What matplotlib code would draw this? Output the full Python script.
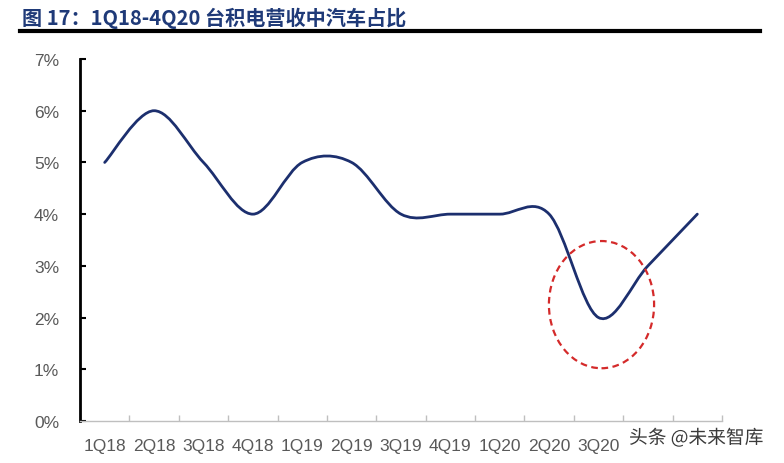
import matplotlib
matplotlib.use("Agg")
import matplotlib.pyplot as plt
from matplotlib.path import Path
from matplotlib.patches import PathPatch, Ellipse
from matplotlib.lines import Line2D
import matplotlib.patheffects as pe
import numpy as np

plt.rcParams['font.family'] = ['Liberation Sans', 'Noto Sans CJK SC', 'DejaVu Sans']

quarters = ["1Q18", "2Q18", "3Q18", "4Q18", "1Q19", "2Q19", "3Q19", "4Q19",
            "1Q20", "2Q20", "3Q20", "4Q20", "1Q21"]
auto_share = [5, 6, 5, 4, 5, 5, 4, 4, 4, 4, 2, 3, 4]   # %
y_ticks = [0, 1, 2, 3, 4, 5, 6, 7]

title = "图 17：1Q18-4Q20 台积电营收中汽车占比"
watermark = "头条 @未来智库"

fig = plt.figure(figsize=(7.84, 4.64), dpi=100)
ax = fig.add_axes([80/784, 1-422/464, (722-80)/784, (422-60)/464])

# Smooth (Excel-style) line through the points
xs = np.arange(len(auto_share), dtype=float)
ys = np.array(auto_share, dtype=float)
n = len(xs)
verts = [(xs[0], ys[0])]
codes = [Path.MOVETO]
for i in range(n-1):
    p_prev = (xs[max(i-1, 0)], ys[max(i-1, 0)])
    p0 = (xs[i], ys[i])
    p1 = (xs[i+1], ys[i+1])
    p_next = (xs[min(i+2, n-1)], ys[min(i+2, n-1)])
    c1 = (p0[0] + (p1[0]-p_prev[0])/6, p0[1] + (p1[1]-p_prev[1])/6)
    c2 = (p1[0] - (p_next[0]-p0[0])/6, p1[1] - (p_next[1]-p0[1])/6)
    verts += [c1, c2, p1]
    codes += [Path.CURVE4]*3
ax.add_patch(PathPatch(Path(verts, codes), facecolor='none',
                       edgecolor='#1C2F6E', lw=2.0, capstyle='round', zorder=3))

# Highlight ellipse
ax.add_patch(Ellipse((10.06, 2.25), 2.13, 2.46, facecolor='none',
                     edgecolor='#D42A2A', lw=1.6, ls=(0, (3, 2)), zorder=4))

ax.set_xlim(-0.5, len(quarters)-0.5)
ax.set_ylim(0, 7)
ax.set_xticks(xs)
ax.set_xticklabels(quarters, fontsize=12.5, color='#595959')
# the last two category labels are hidden under the watermark in the reference
for lbl in ax.get_xticklabels()[-2:]:
    lbl.set_visible(False)
ax.set_xticks(np.arange(-0.5, len(quarters), 1.0), minor=True)
ax.tick_params(axis='x', which='major', length=0, pad=12)
ax.tick_params(axis='x', which='minor', direction='in', length=4, color='#BFBFBF', width=1)
ax.set_yticks(y_ticks)
ax.set_yticklabels([f"{v}%" for v in y_ticks], fontsize=12.5, color='#595959')
ax.tick_params(axis='y', direction='in', length=4, color='black', width=1.5, pad=15)

for s in ['top', 'right']:
    ax.spines[s].set_visible(False)
ax.spines['left'].set_color('black')
ax.spines['left'].set_linewidth(2)
ax.spines['bottom'].set_color('#BFBFBF')
ax.spines['bottom'].set_linewidth(1)

# Title and rule
fig.text(22/784, 1-18/464, title, fontsize=14.5, fontweight='black', color='#1F3A78',
         va='center', ha='left', family=['Noto Sans CJK SC', 'DejaVu Sans'])
fig.add_artist(Line2D([20/784, 760/784], [1-32/464, 1-32/464], color='black', lw=3,
                      transform=fig.transFigure))

# Watermark
fig.text(629/784, 1-439/464, watermark, fontsize=13.5, color='#3A3A3A', va='center', ha='left',
         family=['Noto Sans CJK SC', 'DejaVu Sans'],
         path_effects=[pe.withStroke(linewidth=2, foreground='white')])

fig.savefig("out.png", dpi=100, facecolor='white')
